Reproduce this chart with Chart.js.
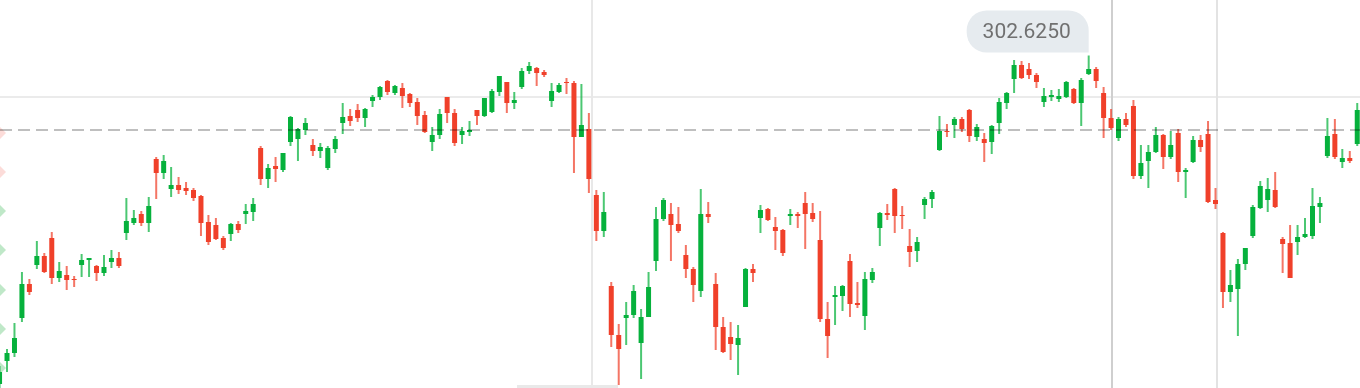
<!DOCTYPE html>
<html>
<head>
<meta charset="utf-8">
<script src="https://cdn.jsdelivr.net/npm/chart.js@4.4.1/dist/chart.umd.min.js"></script>
<style>
  html, body { margin: 0; padding: 0; background: #fff; }
  #wrap { width: 1360px; height: 388px; position: relative; }
</style>
</head>
<body>
<div id="wrap"><canvas id="priceChart"></canvas></div>
<script>
// OHLC per session
const open = [286.2, 287.35, 287.75, 289.5, 291.2, 292.15, 292.6, 293.5, 291.5, 291.65,
  291.45, 292.15, 292.4, 292.1, 291.75, 292.3, 292.5, 293.75, 294.25, 294.7,
  294.25, 297.45, 296.75, 295.95, 296.15, 296.0, 295.9, 295.6, 294.3, 294.15,
  293.5, 293.7, 294.2, 294.7, 294.8, 298.0, 296.45, 297.1, 296.9, 298.3,
  298.45, 298.9, 298.15, 297.85, 297.0, 297.95, 299.25, 299.6, 299.9, 299.5,
  300.35, 300.55, 301.35, 300.75, 301.0, 300.7, 300.3, 299.65, 298.3, 298.65,
  300.55, 299.75, 298.65, 298.8, 299.9, 299.6, 299.8, 300.8, 301.3, 300.25,
  301.05, 301.85, 302.0, 301.8, 300.35, 300.8, 301.3, 301.25, 298.55, 298.95,
  295.65, 293.85, 291.1, 288.65, 289.5, 289.65, 288.25, 289.55, 292.35, 294.45,
  294.7, 294.2, 292.65, 291.95, 290.85, 294.7, 291.2, 289.05, 288.55, 288.15,
  290.05, 291.95, 294.5, 294.95, 294.05, 293.9, 294.6, 294.7, 295.25, 294.75,
  293.4, 289.45, 290.55, 290.6, 292.35, 290.25, 289.6, 291.4, 294.0, 294.75,
  295.95, 294.65, 293.1, 292.85, 295.15, 295.45, 297.9, 298.85, 299.15, 299.45,
  299.9, 298.55, 298.45, 298.3, 299.25, 300.25, 301.45, 302.15, 301.95, 301.65,
  300.3, 300.55, 300.45, 300.55, 300.95, 300.25, 301.7, 301.95, 300.75, 299.5,
  298.5, 299.45, 300.1, 296.6, 297.35, 297.8, 298.65, 297.55, 298.75, 296.8,
  297.3, 298.4, 298.7, 295.4, 293.75, 290.8, 290.95, 292.2, 293.6, 295.0,
  295.4, 295.9, 293.45, 293.25, 293.3, 293.55, 293.6, 295.05, 297.6, 298.7,
  297.3, 297.5, 298.2];
const high = [287.1, 287.95, 289.25, 291.8, 291.45, 293.35, 292.75, 293.8, 292.3, 292.1,
  291.6, 292.7, 292.5, 292.15, 292.65, 292.9, 292.8, 295.5, 294.9, 294.85,
  295.55, 297.55, 297.65, 297.05, 296.55, 296.3, 296.0, 295.65, 294.65, 294.5,
  293.6, 294.25, 294.35, 295.2, 295.5, 298.1, 297.2, 297.55, 297.75, 299.6,
  299.0, 299.5, 298.45, 298.25, 298.1, 298.6, 300.25, 299.95, 300.2, 300.0,
  300.65, 301.1, 301.4, 301.15, 301.25, 300.75, 300.5, 299.85, 299.05, 299.95,
  300.55, 299.95, 299.05, 299.35, 299.9, 300.5, 300.95, 301.6, 301.3, 300.8,
  302.0, 302.3, 302.05, 301.9, 301.25, 301.25, 301.5, 301.35, 301.2, 299.75,
  295.9, 295.8, 291.3, 289.2, 290.3, 291.15, 289.95, 291.8, 295.05, 295.5,
  295.25, 295.05, 293.15, 292.05, 295.95, 295.3, 291.75, 289.55, 289.3, 289.15,
  292.0, 292.2, 295.15, 295.0, 294.55, 293.95, 294.95, 294.8, 295.8, 295.25,
  294.85, 290.3, 291.1, 291.15, 292.7, 291.3, 291.8, 292.0, 294.8, 295.2,
  296.0, 295.1, 293.95, 293.55, 295.55, 295.9, 299.6, 299.2, 299.55, 299.55,
  299.95, 299.2, 298.75, 299.15, 300.5, 300.8, 302.4, 302.35, 302.25, 301.75,
  301.0, 300.9, 300.95, 301.35, 301.0, 301.5, 302.625, 302.05, 301.05, 299.95,
  299.55, 299.75, 300.4, 298.15, 298.15, 299.05, 298.7, 298.85, 298.95, 297.0,
  298.6, 298.65, 299.35, 296.0, 293.8, 291.9, 292.45, 293.0, 295.15, 296.35,
  296.5, 296.8, 293.55, 294.15, 294.15, 294.5, 296.0, 295.55, 299.5, 299.45,
  297.95, 297.85, 300.25];
const low = [286.0, 286.8, 287.55, 289.3, 290.65, 291.95, 291.75, 291.2, 291.3, 290.9,
  291.05, 291.55, 291.55, 291.35, 291.6, 292.0, 292.0, 293.4, 294.15, 294.1,
  293.8, 295.45, 296.45, 295.55, 295.7, 295.65, 295.35, 293.6, 293.15, 293.4,
  292.9, 293.35, 293.75, 294.2, 294.35, 296.15, 296.0, 296.3, 296.8, 298.1,
  297.35, 298.65, 297.6, 297.5, 296.9, 297.75, 298.7, 299.1, 299.3, 299.05,
  300.05, 300.4, 300.65, 300.65, 300.0, 300.05, 299.15, 298.75, 297.85, 298.45,
  299.25, 298.1, 298.2, 298.6, 299.15, 299.55, 299.75, 300.6, 299.75, 299.95,
  300.95, 301.7, 301.1, 301.55, 300.05, 300.75, 300.7, 296.75, 298.55, 295.75,
  293.35, 293.55, 288.05, 286.15, 288.15, 289.5, 286.45, 289.55, 291.85, 294.35,
  292.35, 293.75, 291.5, 290.3, 290.55, 294.25, 287.9, 287.75, 287.4, 286.65,
  290.05, 291.3, 293.75, 294.35, 292.9, 292.6, 294.15, 294.0, 292.95, 294.3,
  289.3, 287.5, 289.15, 289.85, 289.55, 290.0, 288.9, 291.25, 293.1, 294.4,
  293.75, 293.95, 292.05, 292.3, 294.45, 295.0, 297.85, 298.55, 298.5, 298.8,
  298.3, 298.35, 297.3, 297.7, 298.7, 299.95, 300.75, 301.45, 301.45, 301.0,
  300.05, 300.35, 300.3, 300.5, 300.2, 299.1, 301.65, 301.0, 298.5, 298.9,
  298.35, 299.05, 296.45, 296.45, 296.0, 297.75, 296.95, 297.45, 296.3, 295.5,
  297.25, 297.8, 295.25, 294.95, 290.0, 290.3, 288.6, 291.9, 293.5, 294.95,
  294.8, 295.0, 291.75, 291.5, 292.65, 293.5, 293.45, 294.25, 297.5, 297.45,
  297.0, 297.25, 298.1];
const close = [286.8, 287.75, 288.5, 291.2, 290.8, 292.6, 291.8, 291.5, 291.85, 291.4,
  291.4, 292.4, 292.5, 291.75, 292.05, 292.5, 292.1, 294.35, 294.5, 294.25,
  295.1, 296.75, 297.35, 296.15, 295.9, 295.85, 295.5, 294.25, 293.3, 293.45,
  293.0, 294.2, 293.9, 294.85, 295.2, 296.45, 297.0, 296.95, 297.75, 299.55,
  298.95, 299.25, 297.85, 298.05, 298.0, 298.45, 299.55, 299.35, 299.5, 299.95,
  300.55, 301.05, 300.8, 301.1, 300.6, 300.25, 299.6, 298.8, 298.65, 299.7,
  299.75, 298.25, 298.85, 298.9, 299.6, 300.5, 300.85, 301.6, 300.25, 300.4,
  301.85, 302.1, 301.75, 301.65, 300.85, 301.15, 301.25, 298.55, 299.15, 296.45,
  293.85, 294.8, 288.65, 287.95, 289.65, 290.85, 289.55, 291.05, 294.45, 295.4,
  294.15, 293.85, 291.95, 291.15, 294.7, 294.55, 289.05, 287.8, 288.2, 288.5,
  291.95, 291.75, 294.9, 294.4, 293.85, 292.75, 294.7, 294.6, 294.7, 294.45,
  289.45, 288.6, 290.65, 291.1, 290.2, 290.15, 291.45, 291.8, 294.75, 294.65,
  294.6, 294.6, 292.8, 293.3, 295.45, 295.8, 298.85, 298.8, 299.45, 298.95,
  298.6, 299.05, 298.25, 299.1, 300.3, 300.75, 302.15, 301.5, 301.65, 301.3,
  300.6, 300.65, 300.6, 301.3, 300.25, 301.4, 301.95, 301.35, 299.5, 299.0,
  299.45, 299.15, 296.6, 297.25, 297.8, 298.65, 297.55, 298.15, 296.8, 296.9,
  298.4, 298.05, 295.3, 295.2, 290.8, 291.15, 292.2, 293.0, 295.05, 296.1,
  295.95, 295.05, 293.2, 291.5, 293.55, 293.7, 295.1, 295.25, 298.6, 297.55,
  297.5, 297.35, 299.9];
const days = open.map((_, i) => i);

const refPrice = 298.9;         // dashed reference line
const cursorPrice = 300.55;     // crosshair row
const sessionBreaks = [79.4, 149.1, 163.2];
const levelMarks = [298.75, 296.8, 294.85, 292.9, 290.9, 288.95, 287.0];
const levelUp = [false, false, true, true, true, true, true];

const UP = '#06b13c', DOWN = '#f0402a';
const UP_WICK = 'rgba(6,177,60,0.72)', DOWN_WICK = 'rgba(240,64,42,0.72)';
const isUp = days.map(i => close[i] >= open[i]);

const X_MIN = 0.06, X_MAX = 182.37;

const overlays = {
  id: 'overlays',
  beforeDatasetsDraw(chart) {
    const { ctx, chartArea: a, scales: { x, y } } = chart;
    ctx.save();
    // crosshair row
    ctx.strokeStyle = '#ebebeb';
    ctx.lineWidth = 2;
    const cy = Math.round(y.getPixelForValue(cursorPrice));
    ctx.beginPath(); ctx.moveTo(a.left, cy); ctx.lineTo(a.right, cy); ctx.stroke();
    // session separators
    const cols = ['#e8e8e8', '#cfcfcf', '#e3e3e3'];
    sessionBreaks.forEach((d, i) => {
      const px = Math.round(x.getPixelForValue(d));
      ctx.strokeStyle = cols[i];
      ctx.beginPath(); ctx.moveTo(px, a.top); ctx.lineTo(px, a.bottom); ctx.stroke();
    });
    // scroll thumb at the bottom
    ctx.fillStyle = '#e9e9e9';
    ctx.fillRect(517, a.bottom - 3, 101, 3);
    ctx.restore();
  },
  afterDatasetsDraw(chart) {
    const { ctx, chartArea: a, scales: { x, y } } = chart;
    ctx.save();
    // dashed reference price
    const ry = Math.round(y.getPixelForValue(refPrice));
    ctx.strokeStyle = 'rgba(0,0,0,0.25)';
    ctx.lineWidth = 2;
    ctx.setLineDash([12, 6]);
    ctx.beginPath(); ctx.moveTo(a.left, ry); ctx.lineTo(a.right, ry); ctx.stroke();
    ctx.setLineDash([]);

    // max high bubble
    let mi = 0;
    high.forEach((v, i) => { if (v > high[mi]) mi = i; });
    const px = x.getPixelForValue(mi);
    const py = y.getPixelForValue(high[mi]);
    const w = 122, h = 42, r = 20;
    const right = px, bottom = py - 3, left = right - w, top = bottom - h;
    ctx.fillStyle = '#e6ebef';
    ctx.beginPath();
    ctx.moveTo(left + r, top);
    ctx.lineTo(right - r, top);
    ctx.arcTo(right, top, right, top + r, r);
    ctx.lineTo(right, bottom);
    ctx.lineTo(left + r, bottom);
    ctx.arcTo(left, bottom, left, bottom - r, r);
    ctx.lineTo(left, top + r);
    ctx.arcTo(left, top, left + r, top, r);
    ctx.closePath();
    ctx.fill();
    ctx.fillStyle = '#707070';
    ctx.font = '21px Roboto';
    ctx.textAlign = 'center';
    ctx.textBaseline = 'middle';
    ctx.fillText(high[mi].toFixed(4), left + w / 2 - 1, top + h / 2 + 1);
    ctx.restore();
  }
};

new Chart(document.getElementById('priceChart'), {
  type: 'bar',
  data: {
    datasets: [
      {
        label: 'body',
        data: days.map(i => ({ x: i, y: [open[i], close[i]] })),
        backgroundColor: isUp.map(u => u ? UP : DOWN),
        grouped: false,
        maxBarThickness: 5,
        minBarLength: 1
      },
      {
        label: 'wick',
        data: days.map(i => ({ x: i, y: [low[i], high[i]] })),
        backgroundColor: isUp.map(u => u ? UP_WICK : DOWN_WICK),
        grouped: false,
        maxBarThickness: 2
      },
      {
        type: 'scatter',
        label: 'levels',
        data: levelMarks.map(v => ({ x: X_MIN, y: v })),
        pointStyle: 'rectRot',
        pointRadius: 6,
        borderWidth: 0,
        backgroundColor: levelUp.map(u => u ? '#bfe8c8' : '#fcdcd9')
      }
    ]
  },
  options: {
    responsive: true,
    maintainAspectRatio: false,
    animation: false,
    events: [],
    layout: { padding: 0, autoPadding: false },
    plugins: { legend: { display: false }, tooltip: { enabled: false } },
    scales: {
      x: { type: 'linear', min: X_MIN, max: X_MAX, offset: false, display: false },
      y: { min: 286.0, max: 305.4, display: false }
    }
  },
  plugins: [overlays]
});
</script>
</body>
</html>
